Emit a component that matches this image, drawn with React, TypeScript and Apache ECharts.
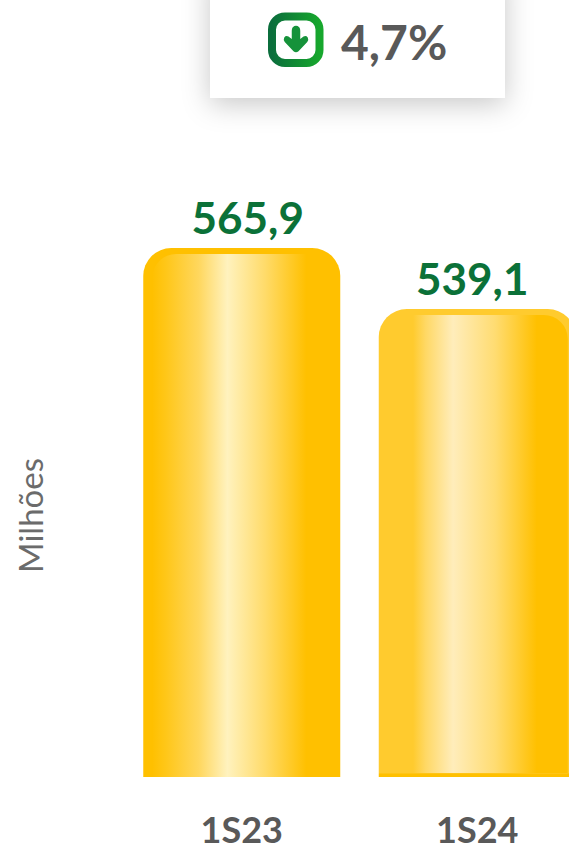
import React, { useEffect, useRef } from "react";
import * as echarts from "echarts";

const categories = ["1S23", "1S24"];
const values = [565.9, 539.1];
const valueLabels = ["565,9", "539,1"];
const outerColors = ["#FFC000", "#FFCB2E"];
const axisName = "Milhões";
const changeLabel = "4,7%";
const FONT = "Lato, Carlito, 'Open Sans', sans-serif";
const AXIS_MIN = 333.5;

echarts.graphic.registerShape(
  "downArrow",
  echarts.graphic.extendPath(
    "M-2.6 -10 Q0 -12 2.6 -10 Q3.4 -9 3.4 -7.5 L3.4 -1.5 L6 -3.2 Q8 -4.2 9.4 -2.6 Q10.4 -0.8 9 0.8 L2 7.4 Q0 9 -2 7.4 L-9 0.8 Q-10.4 -0.8 -9.4 -2.6 Q-8 -4.2 -6 -3.2 L-3.4 -1.5 L-3.4 -7.5 Q-3.4 -9 -2.6 -10 Z",
    {}
  )
);

const innerStops = [
  [
    { offset: 0, color: "#FFC000" },
    { offset: 0.08, color: "#FFC71A" },
    { offset: 0.26, color: "#FFD75E" },
    { offset: 0.42, color: "#FFF2BE" },
    { offset: 0.63, color: "#FFDB6A" },
    { offset: 0.86, color: "#FFC000" },
    { offset: 1, color: "#FFC000" },
  ],
  [
    { offset: 0, color: "#FFCB2E" },
    { offset: 0.15, color: "#FFCB2E" },
    { offset: 0.22, color: "#FFD865" },
    { offset: 0.37, color: "#FFEDBB" },
    { offset: 0.6, color: "#FFDC72" },
    { offset: 0.83, color: "#FFC000" },
    { offset: 1, color: "#FFC000" },
  ],
];
const innerInsets = [
  { left: 9, right: 9, bottom: 0 },
  { left: 7, right: 8, bottom: 4 },
];
const labelOffsets = [
  [6, 0],
  [-5, 0],
];

export default function App() {
  const ref = useRef<HTMLDivElement>(null);
  useEffect(() => {
    document.body.style.margin = "0";
    const chart = echarts.init(ref.current!, null, { renderer: "svg" });
    chart.setOption({
      animation: false,
      backgroundColor: "#FFFFFF",
      grid: { left: 124, width: 471, top: 248, height: 529, outerBoundsMode: "none" },
      xAxis: {
        type: "category",
        data: categories,
        axisLine: { show: false },
        axisTick: { show: false },
        axisLabel: {
          color: "#595959",
          fontFamily: FONT,
          fontWeight: "bold",
          fontSize: 36,
          lineHeight: 30,
          margin: 37,
        },
      },
      yAxis: {
        type: "value",
        min: AXIS_MIN,
        max: 565.9,
        name: axisName,
        nameLocation: "middle",
        nameGap: 78,
        nameRotate: 90,
        nameTextStyle: {
          color: "#6B6B6B",
          fontFamily: FONT,
          fontSize: 33,
          padding: [0, 0, 0, -6],
        },
        axisLine: { show: false },
        axisTick: { show: false },
        axisLabel: { show: false },
        splitLine: { show: false },
      },
      series: [
        {
          type: "bar",
          barWidth: 197,
          data: values.map((v, i) => ({
            value: v,
            itemStyle: {
              color: {
                type: "linear",
                x: 0,
                y: 0,
                x2: 0,
                y2: 1,
                colorStops: [
                  { offset: 0, color: outerColors[i] },
                  { offset: 0.992, color: outerColors[i] },
                  { offset: 0.993, color: "#FFC000" },
                  { offset: 1, color: "#FFC000" },
                ],
              },
              borderRadius: [28, 28, 0, 0],
            },
            label: { offset: labelOffsets[i] },
          })),
          label: {
            show: true,
            position: "top",
            distance: 9,
            color: "#0B7138",
            fontFamily: FONT,
            fontWeight: "bold",
            fontSize: 44,
            formatter: (p: any) => valueLabels[p.dataIndex],
          },
          z: 2,
        },
        {
          type: "custom",
          data: values.map((v, i) => [i, v]),
          z: 3,
          silent: true,
          renderItem: (_: any, api: any) => {
            const i = api.value(0);
            const top = api.coord([i, api.value(1)]);
            const base = api.coord([i, AXIS_MIN]);
            const w = 197;
            const inset = innerInsets[i];
            return {
              type: "rect",
              shape: {
                x: top[0] - w / 2 + inset.left,
                y: top[1] + 6,
                width: w - inset.left - inset.right,
                height: base[1] - top[1] - 6 - inset.bottom,
                r: [24, 24, 0, 0],
              },
              style: {
                fill: {
                  type: "linear",
                  x: 0,
                  y: 0,
                  x2: 1,
                  y2: 0,
                  colorStops: innerStops[i],
                },
              },
            };
          },
        },
      ],
      graphic: [
        {
          type: "rect",
          z: 5,
          shape: { x: 210, y: -30, width: 295, height: 128 },
          style: {
            fill: "#FFFFFF",
            shadowBlur: 28,
            shadowColor: "rgba(0,0,0,0.22)",
            shadowOffsetX: 0,
            shadowOffsetY: 6,
          },
        },
        {
          type: "rect",
          z: 6,
          shape: { x: 272, y: 16.5, width: 47.5, height: 46.5, r: 13 },
          style: {
            fill: "#FFFFFF",
            lineWidth: 8,
            stroke: {
              type: "linear",
              x: 0,
              y: 0,
              x2: 1,
              y2: 0,
              colorStops: [
                { offset: 0, color: "#0B6E3C" },
                { offset: 1, color: "#17A72D" },
              ],
            },
          },
        },
        {
          type: "downArrow",
          z: 7,
          x: 296,
          y: 41,
          scaleX: 1.25,
          scaleY: 1.38,
          style: { fill: "#15923A" },
        },
        {
          type: "text",
          z: 7,
          x: 341,
          y: 41,
          style: {
            text: changeLabel,
            fill: "#595959",
            fontFamily: FONT,
            fontWeight: "bold",
            fontSize: 48,
            textAlign: "left",
            textVerticalAlign: "middle",
          },
        },
      ],
    });
    return () => chart.dispose();
  }, []);
  return <div ref={ref} style={{ width: 569, height: 849 }} />;
}
